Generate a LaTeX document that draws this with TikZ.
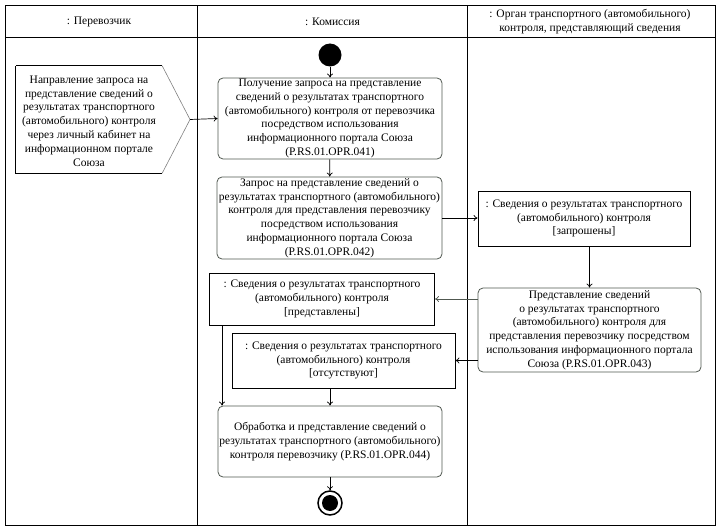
\documentclass[tikz,border=0pt]{standalone}
\usepackage{fontspec}
\setmainfont{Liberation Serif}
\usetikzlibrary{arrows.meta,calc}
\definecolor{boxline}{HTML}{505850}
\tikzset{
  x=1pt,y=-1pt,
  every node/.style={font=\fontsize{11.5}{13.8}\selectfont, inner sep=0pt},
  actbox/.style={draw=boxline, rounded corners=5pt, line width=0.8pt, align=center},
  objbox/.style={draw=black, line width=0.8pt, align=center},
  conn/.style={draw=black, line width=0.7pt, -{To[length=4pt,width=6pt]}},
  lane/.style={draw=black, line width=1pt}
}
\begin{document}
\begin{tikzpicture}
\useasboundingbox (0,0) rectangle (726,532);
% frame
\draw[lane] (5.5,6) rectangle (715.5,525.5);
\draw[lane] (5.5,37.5) -- (715.5,37.5);
\draw[lane] (197.5,6) -- (197.5,525.5);
\draw[lane] (467.5,6) -- (467.5,525.5);
\node (h1) at (99,22) {: Перевозчик};
\node (h2) at (332.5,22) {: Комиссия};
\node[align=center] (h3) at (590,22) {: Орган транспортного (автомобильного)\\контроля, представляющий сведения};
% start
\node[circle, fill=black, minimum size=23pt] (start) at (330,55) {};
% box1
\node[actbox, minimum width=224pt, minimum height=81pt] (b1) at (330,118.5) {Получение запроса на представление\\сведений о результатах транспортного\\(автомобильного) контроля от перевозчика\\посредством использования\\информационного портала Союза\\(P.RS.01.OPR.041)};
% signal
\node[minimum width=146pt, minimum height=107pt] (sig) at (89,119.5) {};
\coordinate (tip) at (190,119.5);
\draw[line width=0.8pt] (sig.north west) -- (sig.north east);
\draw[line width=0.8pt] (sig.south east) -- (sig.south west) -- (sig.north west);
\draw[line width=0.6pt, draw=gray] (sig.north east) -- (tip) -- (sig.south east);
\node[align=center] (sigtext) at (89,121) {Направление запроса на\\представление сведений о\\результатах транспортного\\(автомобильного) контроля\\через личный кабинет на\\информационном портале\\Союза};
% box2
\node[actbox, minimum width=225pt, minimum height=82pt] (b2) at (329.5,218) {Запрос на представление сведений о\\результатах транспортного (автомобильного)\\контроля для представления перевозчику\\посредством использования\\информационного портала Союза\\(P.RS.01.OPR.042)};
% box3
\node[objbox, minimum width=212pt, minimum height=55pt] (b3) at (584,218.5) {: Сведения о результатах транспортного\\(автомобильного) контроля\\{[запрошены]}};
% box4
\node[actbox, minimum width=223pt, minimum height=84pt] (b4) at (589.5,330) {Представление сведений\\о результатах транспортного\\(автомобильного) контроля для\\представления перевозчику посредством\\использования информационного портала\\Союза (P.RS.01.OPR.043)};
% objects
\node[objbox, minimum width=225pt, minimum height=52pt] (pred) at (322,299) {: Сведения о результатах транспортного\\(автомобильного) контроля\\{[представлены]}};
\node[objbox, minimum width=223pt, minimum height=55pt] (ots) at (343.5,360.5) {: Сведения о результатах транспортного\\(автомобильного) контроля\\{[отсутствуют]}};
% box5
\node[actbox, minimum width=224pt, minimum height=71pt] (b5) at (330,441.5) {Обработка и представление сведений о\\результатах транспортного (автомобильного)\\контроля перевозчику (P.RS.01.OPR.044)};
% end
\node[circle, draw=black, line width=1.5pt, minimum size=24pt] (end) at (330,503) {};
\node[circle, fill=black, minimum size=16pt] (endin) at (end.center) {};
% connectors
\draw[conn] (start) -- (b1);
\draw[conn] (b1) -- (b2);
\draw[conn] (tip) -- (b1.west);
\draw[conn] (b2.east) -- (b3.west |- b2.east);
\draw[conn] (b4.north |- b3.south) -- (b4.north);
\draw[conn, draw=boxline] (b4.west |- pred.east) -- (pred.east);
\draw[conn] (b4.west |- ots.east) -- (ots.east);
\coordinate (pl) at ($(pred.south)+(-100,0)$);
\draw[conn] (pl) -- (pl |- b5.north);
\draw[conn] (b5.north |- ots.south) -- (b5.north);
\draw[conn] (b5) -- (end);
\end{tikzpicture}
\end{document}
